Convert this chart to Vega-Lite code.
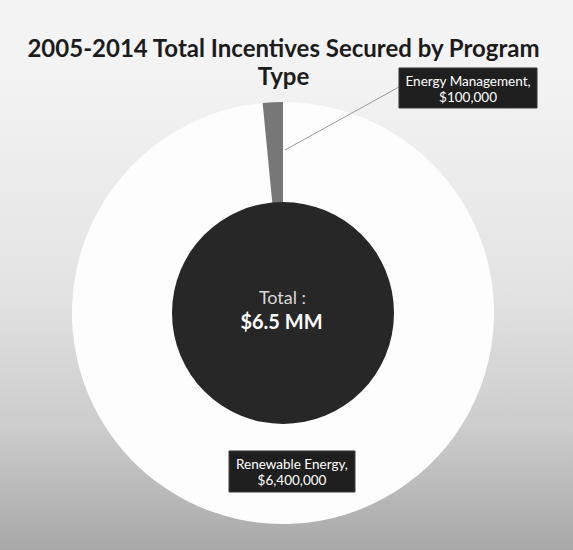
{
  "$schema": "https://vega.github.io/schema/vega-lite/v6.json",
  "width": 573,
  "height": 474,
  "autosize": {"type": "none"},
  "padding": {"top": 76, "left": 0, "right": 0, "bottom": 0},
  "background": "#f3f3f3",
  "view": {
    "stroke": null,
    "fill": {
      "gradient": "linear", "x1": 0, "y1": 0, "x2": 0, "y2": 1,
      "stops": [
        {"offset": 0, "color": "#f3f3f3"},
        {"offset": 0.45, "color": "#e3e3e3"},
        {"offset": 0.75, "color": "#cbcbcb"},
        {"offset": 1, "color": "#a8a8a8"}
      ]
    }
  },
  "title": {
    "text": ["2005-2014 Total Incentives Secured by Program", "Type"],
    "font": "Lato",
    "fontSize": 24,
    "fontWeight": "bold",
    "color": "#1c1c1c",
    "anchor": "middle",
    "lineHeight": 28,
    "offset": -23,
    "dx": -3
  },
  "datasets": {
    "slices": [
      {"program": "Renewable Energy", "amount": 6400000},
      {"program": "Energy Management", "amount": 100000}
    ],
    "total": [
      {"label": "Total", "amount": 6500000}
    ],
    "centerText": [
      {"text": "Total :", "x": 49.3, "y": 48.1},
      {"text": "$6.5 MM", "x": 49.13, "y": 53.38}
    ],
    "labels": [
      {"program": "Energy Management", "text": "Energy Management,\n$100,000", "x1": 69.63, "x2": 93.72, "y1": -1.69, "y2": 6.75, "tx": 81.68, "ty": 1.3},
      {"program": "Renewable Energy", "text": "Renewable Energy,\n$6,400,000", "x1": 39.97, "x2": 61.95, "y1": 79.11, "y2": 87.76, "tx": 50.96, "ty": 82.05}
    ],
    "leader": [
      {"x1": 49.74, "y1": 15.61, "x2": 69.63, "y2": 2.32}
    ]
  },
  "layer": [
    {
      "data": {"name": "slices"},
      "mark": {"type": "arc", "outerRadius": 211, "innerRadius": 0},
      "encoding": {
        "theta": {"field": "amount", "type": "quantitative", "stack": true},
        "order": {"field": "amount", "sort": "descending"},
        "color": {
          "field": "program", "type": "nominal",
          "scale": {"domain": ["Renewable Energy", "Energy Management"], "range": ["#fdfdfd", "#777777"]},
          "legend": null
        },
        "x": {"datum": 49.39, "type": "quantitative", "scale": {"domain": [0, 100], "nice": false, "zero": false}, "axis": null},
        "y": {"datum": 50, "type": "quantitative", "scale": {"domain": [0, 100], "nice": false, "zero": false, "reverse": true}, "axis": null}
      }
    },
    {
      "data": {"name": "total"},
      "mark": {"type": "arc", "outerRadius": 111, "innerRadius": 0, "color": "#272727"},
      "encoding": {
        "theta": {"field": "amount", "type": "quantitative"},
        "x": {"datum": 49.39, "type": "quantitative"},
        "y": {"datum": 50, "type": "quantitative"}
      }
    },
    {
      "data": {"name": "leader"},
      "mark": {"type": "rule", "color": "#9a9a9a", "strokeWidth": 1},
      "encoding": {
        "x": {"field": "x1", "type": "quantitative"},
        "y": {"field": "y1", "type": "quantitative"},
        "x2": {"field": "x2"},
        "y2": {"field": "y2"}
      }
    },
    {
      "data": {"name": "labels"},
      "mark": {"type": "rect", "color": "#1f1f1f", "stroke": "#3a3a3a", "strokeWidth": 1},
      "encoding": {
        "x": {"field": "x1", "type": "quantitative"},
        "x2": {"field": "x2"},
        "y": {"field": "y1", "type": "quantitative"},
        "y2": {"field": "y2"}
      }
    },
    {
      "data": {"name": "labels"},
      "mark": {"type": "text", "color": "#ffffff", "font": "Lato", "fontSize": 13.5, "lineBreak": "\n", "lineHeight": 16, "align": "center", "baseline": "middle"},
      "encoding": {
        "x": {"field": "tx", "type": "quantitative"},
        "y": {"field": "ty", "type": "quantitative"},
        "text": {"field": "text"}
      }
    },
    {
      "data": {"name": "centerText"},
      "transform": [{"filter": "datum.text === 'Total :'"}],
      "mark": {"type": "text", "color": "#d8d8d8", "font": "Lato", "fontSize": 18, "align": "center", "baseline": "alphabetic"},
      "encoding": {
        "x": {"field": "x", "type": "quantitative"},
        "y": {"field": "y", "type": "quantitative"},
        "text": {"field": "text"}
      }
    },
    {
      "data": {"name": "centerText"},
      "transform": [{"filter": "datum.text === '$6.5 MM'"}],
      "mark": {"type": "text", "color": "#ffffff", "font": "Lato", "fontSize": 20, "fontWeight": "bold", "align": "center", "baseline": "alphabetic"},
      "encoding": {
        "x": {"field": "x", "type": "quantitative"},
        "y": {"field": "y", "type": "quantitative"},
        "text": {"field": "text"}
      }
    }
  ]
}
